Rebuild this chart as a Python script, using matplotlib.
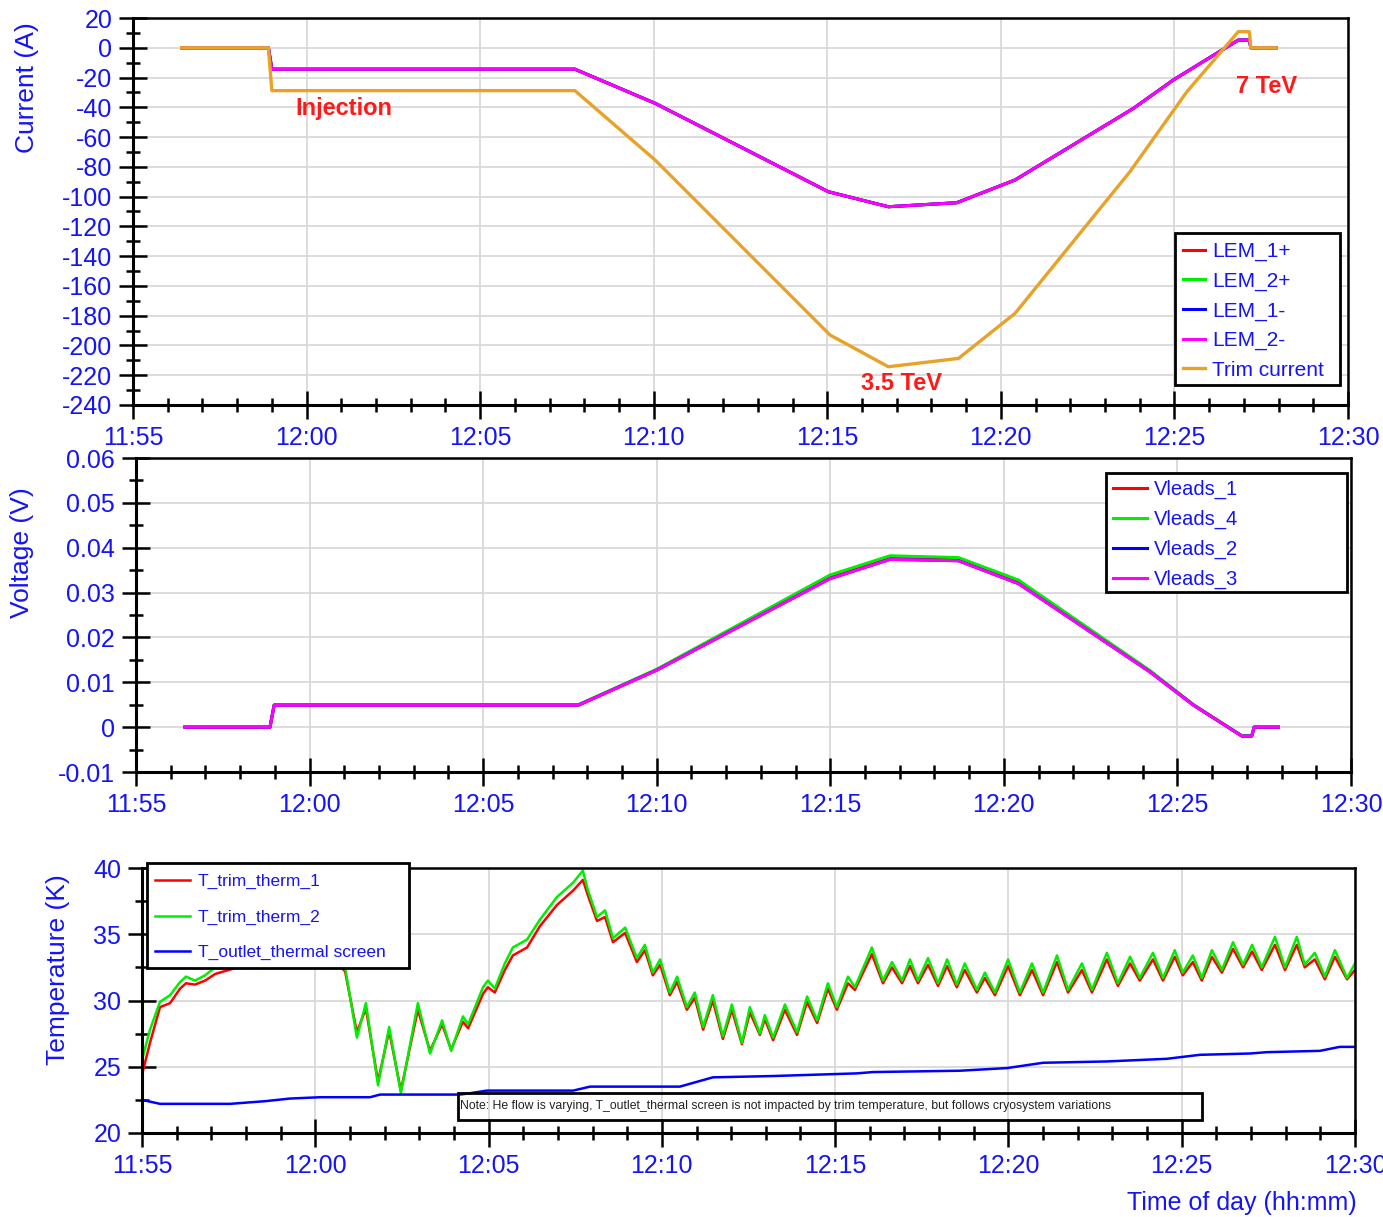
import matplotlib
matplotlib.use("Agg")
import matplotlib.pyplot as plt
from matplotlib.patches import Rectangle
from matplotlib.ticker import MultipleLocator

plt.rcParams['font.family'] = ['Liberation Sans', 'DejaVu Sans']
plt.rcParams['axes.unicode_minus'] = False

# ---------------------------------------------------------------- time axis
# all times are minutes after 11:55
time_ticks = [0, 5, 10, 15, 20, 25, 30, 35]
time_labels = ["11:55", "12:00", "12:05", "12:10", "12:15", "12:20", "12:25", "12:30"]

# ---------------------------------------------------------------- currents (A)
trim_t = [1.40, 3.90, 4.00, 12.73, 15.04, 20.08, 21.76, 23.78, 25.41, 28.72,
          30.36, 31.84, 32.16, 32.20, 32.93]
trim_current = [0, 0, -28.8, -28.8, -75.4, -193.0, -214.3, -208.7, -178.4, -83.2,
                -29.5, 10.8, 10.8, 0, 0]

lem_t = [1.40, 3.90, 4.00, 12.73, 15.04, 20.03, 21.76, 23.73, 25.41, 28.82,
         29.97, 31.84, 32.16, 32.20, 32.93]
lem_2_minus = [0, 0, -14.4, -14.4, -37.3, -96.7, -106.8, -104.1, -88.8, -40.7,
               -21.6, 5.2, 5.2, 0, 0]
lem_1_plus = [0, 0, -14.4, -14.4, -37.3, -96.7, -106.8, -104.1, -88.8, -40.7,
              -21.6, 5.2, 5.2, 0, 0]
lem_2_plus = [0, 0, -14.4, -14.4, -37.3, -96.7, -106.8, -104.1, -88.8, -40.7,
              -21.6, 5.2, 5.2, 0, 0]
lem_1_minus = [0, 0, -14.4, -14.4, -37.3, -96.7, -106.8, -104.1, -88.8, -40.7,
               -21.6, 5.2, 5.2, 0, 0]

# ---------------------------------------------------------------- lead voltages (V)
volt_t = [1.41, 3.86, 3.98, 12.74, 15.00, 19.99, 21.72, 23.69, 25.42, 29.21,
          30.46, 31.86, 32.14, 32.21, 32.91]
vleads_3 = [0, 0, 0.0049, 0.0049, 0.0127, 0.0331, 0.0374, 0.0371, 0.0320, 0.0123,
            0.0049, -0.0020, -0.0020, 0, 0]
vleads_2 = [0, 0, 0.0049, 0.0049, 0.0127, 0.0331, 0.0374, 0.0371, 0.0320, 0.0123,
            0.0049, -0.0020, -0.0020, 0, 0]
vleads_1 = [0, 0, 0.0049, 0.0049, 0.0128, 0.0335, 0.0378, 0.0375, 0.0324, 0.0125,
            0.0050, -0.0020, -0.0020, 0, 0]
vleads_4 = [0, 0, 0.0050, 0.0050, 0.0129, 0.0339, 0.0382, 0.0378, 0.0328, 0.0126,
            0.0050, -0.0019, -0.0019, 0, 0]

# ---------------------------------------------------------------- temperatures (K)
therm_t = [0.00, 0.23, 0.52, 0.81, 1.10, 1.27, 1.53, 1.82, 2.11, 3.40, 4.56, 5.57,
           5.86, 6.20, 6.46, 6.81, 7.13, 7.47, 7.96, 8.31, 8.66, 8.92, 9.26, 9.41,
           9.84, 9.98, 10.18, 10.47, 10.70, 11.11, 11.48, 11.97, 12.44, 12.72, 12.87,
           13.13, 13.36, 13.59, 13.94, 14.28, 14.51, 14.74, 14.95, 15.23, 15.44,
           15.72, 15.95, 16.19, 16.47, 16.76, 17.02, 17.31, 17.54, 17.83, 17.97,
           18.21, 18.55, 18.90, 19.19, 19.48, 19.79, 20.05, 20.37, 20.57, 21.06,
           21.38, 21.64, 21.93, 22.16, 22.39, 22.68, 22.97, 23.23, 23.51, 23.74,
           24.09, 24.32, 24.61, 24.99, 25.33, 25.68, 26.00, 26.40, 26.72, 27.12,
           27.41, 27.84, 28.16, 28.51, 28.79, 29.17, 29.46, 29.80, 30.03, 30.32,
           30.58, 30.87, 31.16, 31.48, 31.77, 32.03, 32.31, 32.69, 32.98, 33.32,
           33.55, 33.84, 34.13, 34.42, 34.77, 35.00]
t_trim_therm_2 = [25.5, 27.8, 29.9, 30.4, 31.4, 31.8, 31.5, 31.9, 32.5, 33.4, 33.9, 33.4,
                  32.5, 27.2, 29.8, 23.6, 28.0, 23.0, 29.8, 26.0, 28.5, 26.2, 28.8, 28.2,
                  31.0, 31.5, 30.9, 32.8, 34.0, 34.6, 36.1, 37.8, 38.9, 39.8, 38.3,
                  36.3, 36.8, 34.7, 35.5, 33.2, 34.2, 32.1, 33.1, 30.6, 31.8,
                  29.5, 30.6, 28.0, 30.4, 27.3, 29.7, 26.8, 29.5, 27.5, 28.9,
                  27.2, 29.7, 27.6, 30.3, 28.5, 31.3, 29.5, 31.8, 31.0, 34.0,
                  31.5, 32.9, 31.5, 33.1, 31.5, 33.2, 31.3, 33.1, 31.2, 32.8,
                  30.8, 32.1, 30.6, 33.1, 30.6, 32.8, 30.6, 33.4, 30.8, 32.8,
                  30.8, 33.6, 31.3, 33.3, 31.7, 33.6, 31.7, 33.8, 32.1, 33.4,
                  31.7, 33.8, 32.3, 34.4, 32.7, 34.2, 32.5, 34.8, 32.5, 34.8,
                  32.7, 33.6, 31.8, 33.8, 31.7, 32.8]
t_trim_therm_1 = [24.4, 26.8, 29.5, 29.8, 30.9, 31.3, 31.2, 31.5, 32.0, 33.0, 33.5, 33.0,
                  32.2, 27.6, 29.4, 23.9, 27.7, 23.2, 29.3, 26.2, 28.2, 26.3, 28.4, 27.9,
                  30.5, 31.0, 30.6, 32.3, 33.4, 34.0, 35.6, 37.2, 38.3, 39.1, 37.9,
                  36.0, 36.3, 34.4, 35.1, 32.9, 33.8, 31.9, 32.7, 30.4, 31.4,
                  29.3, 30.2, 27.8, 30.0, 27.1, 29.3, 26.7, 29.1, 27.4, 28.6,
                  27.0, 29.3, 27.4, 29.9, 28.3, 30.9, 29.3, 31.3, 30.8, 33.5,
                  31.3, 32.5, 31.3, 32.6, 31.3, 32.7, 31.1, 32.6, 31.0, 32.3,
                  30.6, 31.7, 30.4, 32.6, 30.4, 32.3, 30.4, 32.9, 30.6, 32.3,
                  30.6, 33.1, 31.1, 32.8, 31.5, 33.1, 31.5, 33.3, 31.9, 32.9,
                  31.5, 33.3, 32.1, 33.9, 32.5, 33.7, 32.3, 34.2, 32.3, 34.2,
                  32.5, 33.1, 31.6, 33.3, 31.6, 32.3]

outlet_t = [0.00, 0.52, 2.54, 3.55, 4.27, 5.14, 6.58, 6.87, 9.17, 9.46, 9.95, 12.44,
            12.93, 15.52, 16.47, 18.21, 20.63, 21.09, 23.60, 24.96, 26.00, 27.84,
            29.57, 30.52, 31.97, 32.46, 33.99, 34.56, 35.00]
t_outlet = [22.5, 22.2, 22.2, 22.4, 22.6, 22.7, 22.7, 22.9, 22.9, 23.0, 23.2, 23.2,
            23.5, 23.5, 24.2, 24.3, 24.5, 24.6, 24.7, 24.9, 25.3, 25.4,
            25.6, 25.9, 26.0, 26.1, 26.2, 26.5, 26.5]

note = ("Note: He flow is varying, T_outlet_thermal screen is not impacted by trim "
        "temperature, but follows cryosystem variations")

LABEL_BLUE = '#1414f5'
ORANGE = '#e8a228'
W, H = 1383, 1217


def style_axes(ax):
    ax.set_xlim(0, 35)
    ax.set_xticks(time_ticks, labels=time_labels)
    ax.xaxis.set_minor_locator(MultipleLocator(1))
    ax.tick_params(which='major', direction='inout', length=20, width=1.8,
                   color='black', labelcolor=LABEL_BLUE, labelsize=18)
    ax.tick_params(which='minor', direction='inout', length=10, width=1.8,
                   color='black')
    ax.tick_params(axis='x', which='major', pad=5)
    ax.tick_params(axis='y', which='major', pad=5)
    ax.grid(which='major', color='#d9d9d9', lw=1.3)
    ax.set_axisbelow(True)
    for s in ('left', 'bottom'):
        ax.spines[s].set_linewidth(2.2)
    for s in ('top', 'right'):
        ax.spines[s].set_linewidth(1.8)


def boxed_legend(ax, handles, labels, anchor, box, fontsize, handlelength,
                 handletextpad, labelspacing):
    x0, y0, x1, y1 = box
    ax.add_patch(Rectangle((x0, y0), x1 - x0, y1 - y0, transform=ax.transAxes,
                           facecolor='white', edgecolor='black', lw=2.0,
                           zorder=4.5, clip_on=False))
    leg = ax.legend(handles, labels, loc='upper left', bbox_to_anchor=anchor,
                    frameon=False, fontsize=fontsize, handlelength=handlelength,
                    handletextpad=handletextpad, labelspacing=labelspacing,
                    borderpad=0, borderaxespad=0)
    for t in leg.get_texts():
        t.set_color(LABEL_BLUE)
    return leg


fig = plt.figure(figsize=(W / 100, H / 100), dpi=100)
ax1 = fig.add_axes([133 / W, 1 - 405 / H, 1215 / W, 387 / H])
ax2 = fig.add_axes([136 / W, 1 - 772 / H, 1215 / W, 314 / H])
ax3 = fig.add_axes([142 / W, 1 - 1133 / H, 1213 / W, 265 / H])

# ---------------------------------------------------------------- current panel
l1, = ax1.plot(lem_t, lem_1_plus, color='red', lw=2.2)
l2, = ax1.plot(lem_t, lem_2_plus, color='#00ee00', lw=2.2)
l3, = ax1.plot(lem_t, lem_1_minus, color='blue', lw=2.2)
l4, = ax1.plot(lem_t, lem_2_minus, color='magenta', lw=2.2)
l5, = ax1.plot(trim_t, trim_current, color=ORANGE, lw=2.4)
style_axes(ax1)
ax1.set_ylim(-240, 20)
ax1.yaxis.set_major_locator(MultipleLocator(20))
ax1.yaxis.set_minor_locator(MultipleLocator(10))
ax1.set_ylabel('Current (A)', color=LABEL_BLUE, fontsize=19, va='center')
ax1.yaxis.set_label_coords(-0.087, 0.82)
for txt, x, y in (('Injection', 6.08, -40.5), ('3.5 TeV', 22.13, -225.3),
                  ('7 TeV', 32.64, -26.3)):
    ax1.text(x, y, txt, color='#ff1a1a', fontsize=17, fontweight='bold',
             ha='center', va='center')
boxed_legend(ax1, [l1, l2, l3, l4, l5],
             ['LEM_1+', 'LEM_2+', 'LEM_1-', 'LEM_2-', 'Trim current'],
             anchor=(0.8642, 0.4212), box=(0.8576, 0.0517, 0.9934, 0.4444),
             fontsize=15, handlelength=1.06, handletextpad=0.34, labelspacing=0.5)

# ---------------------------------------------------------------- voltage panel
v1, = ax2.plot(volt_t, vleads_1, color='red', lw=2.2)
v4, = ax2.plot(volt_t, vleads_4, color='#00ee00', lw=2.2)
v2, = ax2.plot(volt_t, vleads_2, color='blue', lw=2.2)
v3, = ax2.plot(volt_t, vleads_3, color='magenta', lw=2.2)
style_axes(ax2)
ax2.set_ylim(-0.01, 0.06)
ax2.set_yticks([-0.01, 0, 0.01, 0.02, 0.03, 0.04, 0.05, 0.06],
               labels=['-0.01', '0', '0.01', '0.02', '0.03', '0.04', '0.05', '0.06'])
ax2.yaxis.set_minor_locator(MultipleLocator(0.005))
ax2.set_ylabel('Voltage (V)', color=LABEL_BLUE, fontsize=19, va='center')
ax2.yaxis.set_label_coords(-0.094, 0.70)
boxed_legend(ax2, [v1, v4, v2, v3], ['Vleads_1', 'Vleads_4', 'Vleads_2', 'Vleads_3'],
             anchor=(0.8041, 0.930), box=(0.7984, 0.5732, 0.9967, 0.9522),
             fontsize=14.5, handlelength=1.7, handletextpad=0.35, labelspacing=0.53)

# ---------------------------------------------------------------- temperature panel
t1, = ax3.plot(therm_t, t_trim_therm_1, color='red', lw=1.8)
t2, = ax3.plot(therm_t, t_trim_therm_2, color='#00ee00', lw=1.8)
t3, = ax3.plot(outlet_t, t_outlet, color='blue', lw=1.8)
style_axes(ax3)
ax3.set_ylim(20, 40)
ax3.yaxis.set_major_locator(MultipleLocator(5))
ax3.yaxis.set_minor_locator(MultipleLocator(2.5))
ax3.set_ylabel('Temperature (K)', color=LABEL_BLUE, fontsize=19, va='center')
ax3.yaxis.set_label_coords(-0.069, 0.615)
ax3.set_xlabel('Time of day (hh:mm)', color=LABEL_BLUE, fontsize=18,
               ha='right', va='center')
ax3.xaxis.set_label_coords(1.0016, -0.264)
boxed_legend(ax3, [t1, t2, t3],
             ['T_trim_therm_1', 'T_trim_therm_2', 'T_outlet_thermal screen'],
             anchor=(0.0107, 0.9775), box=(0.0041, 0.6226, 0.2201, 1.0189),
             fontsize=12.5, handlelength=2.0, handletextpad=0.45, labelspacing=1.17)
ax3.add_patch(Rectangle((0.2605, 0.049), 0.6134, 0.102, transform=ax3.transAxes,
                        facecolor='none', edgecolor='black', lw=2.0, zorder=4))
ax3.text(0.2625, 0.100, note, transform=ax3.transAxes, fontsize=8.8,
         color='#222222', ha='left', va='center', zorder=4)

fig.savefig('out.png', dpi=100)
